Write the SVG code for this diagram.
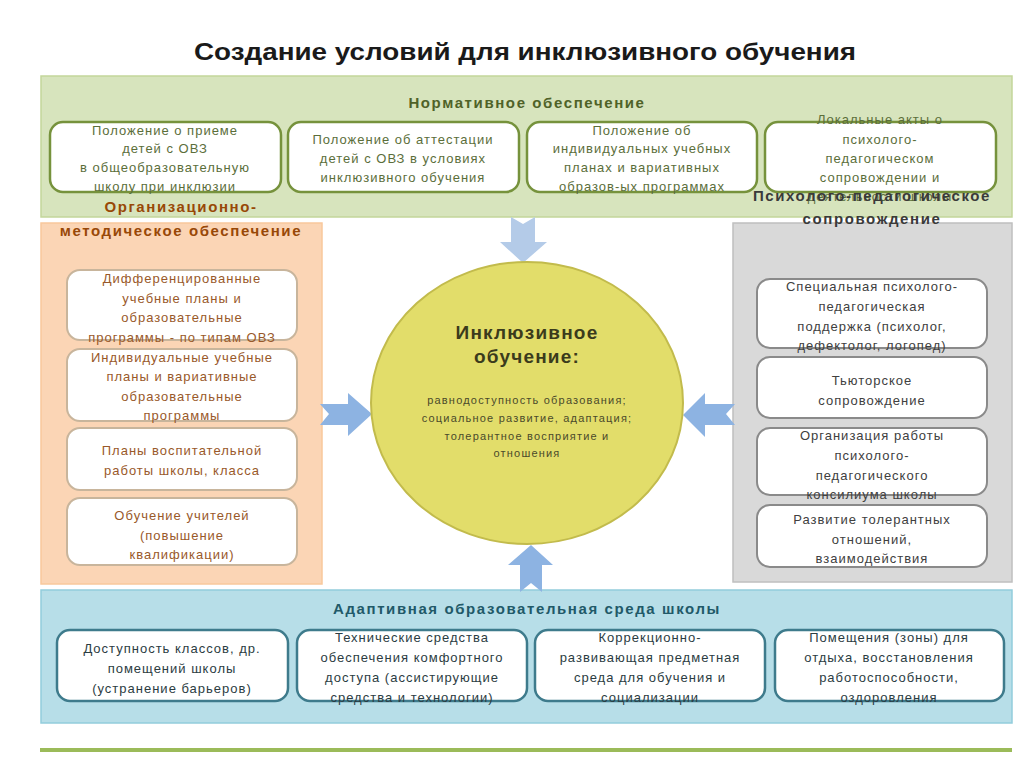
<svg xmlns="http://www.w3.org/2000/svg" width="1024" height="767" viewBox="0 0 1024 767">
<style>
text{font-family:"Liberation Sans",Arial,sans-serif;text-anchor:middle}
.t{font-size:13px;letter-spacing:1px}
.h{font-size:15px;font-weight:bold;letter-spacing:1.6px}
.gb{fill:#fff;stroke:#76923c;stroke-width:2.5}
.gt{fill:#5b6e3a}
.ob{fill:#fff;stroke:#c8b59c;stroke-width:2}
.ot{fill:#99592a}
.sb{fill:#fff;stroke:#8a8a8a;stroke-width:2}
.st{fill:#404040}
.bb{fill:#fff;stroke:#3e7b8c;stroke-width:2.5}
.bt{fill:#2b3c42}
.arr{fill:#8db3e2}
</style>
<rect width="1024" height="767" fill="#fff"/>
<text id="title" x="525" y="60" style="font-size:24px;font-weight:bold;fill:#1a1a1a" textLength="662" lengthAdjust="spacingAndGlyphs">Создание условий для инклюзивного обучения</text>

<g id="panel-norm">
<rect x="41" y="76" width="971" height="141" fill="#d7e4bd" stroke="#c3d69b" stroke-width="1.5"/>
<text class="h" x="527" y="108" style="fill:#4f6228">Нормативное обеспечение</text>
</g>
<g id="panel-org">
<rect x="41" y="223" width="281" height="361" fill="#fbd5b5" stroke="#f9c89c" stroke-width="1.5"/>
</g>
<g id="panel-psy">
<rect x="733" y="223" width="279" height="359" fill="#d9d9d9" stroke="#bfbfbf" stroke-width="1.5"/>
</g>
<g id="panel-env">
<rect x="41" y="590" width="971" height="133" fill="#b7dee8" stroke="#92cddc" stroke-width="1.5"/>
<text class="h" x="527" y="614" style="fill:#215968">Адаптивная образовательная среда школы</text>
</g>

<g id="n1">
<rect class="gb" x="50" y="122" width="231" height="70" rx="13"/>
<text class="t gt" x="165"><tspan x="165" y="135">Положение о приеме</tspan><tspan x="165" y="153">детей с ОВЗ</tspan><tspan x="165" y="172">в общеобразовательную</tspan><tspan x="165" y="191">школу  при инклюзии</tspan></text>
</g>
<g id="n2">
<rect class="gb" x="288" y="122" width="231" height="70" rx="13"/>
<text class="t gt"><tspan x="403" y="144">Положение об аттестации</tspan><tspan x="403" y="163">детей с ОВЗ в условиях</tspan><tspan x="403" y="182">инклюзивного обучения</tspan></text>
</g>
<g id="n3">
<rect class="gb" x="527" y="122" width="230" height="70" rx="13"/>
<text class="t gt"><tspan x="642" y="135">Положение об</tspan><tspan x="642" y="153">индивидуальных учебных</tspan><tspan x="642" y="172">планах и вариативных</tspan><tspan x="642" y="191">образов-ых программах</tspan></text>
</g>
<g id="n4">
<rect class="gb" x="765" y="122" width="231" height="70" rx="13"/>
<text class="t gt"><tspan x="880" y="124">Локальные акты о</tspan><tspan x="880" y="144">психолого-</tspan><tspan x="880" y="163">педагогическом</tspan><tspan x="880" y="182">сопровождении и</tspan><tspan x="880" y="201">деятельности школы</tspan></text>
</g>

<text class="h" x="181" y="212" style="fill:#984807">Организационно-</text>
<text class="h" x="181" y="236" style="fill:#984807">методическое обеспечение</text>
<text class="h" x="872" y="201" style="fill:#3a3a3a">Психолого-педагогическое</text>
<text class="h" x="872" y="224" style="fill:#3a3a3a">сопровождение</text>

<g id="o1">
<rect class="ob" x="67" y="270" width="230" height="70" rx="13"/>
<text class="t ot"><tspan x="182" y="283">Дифференцированные</tspan><tspan x="182" y="303">учебные планы и</tspan><tspan x="182" y="322">образовательные</tspan><tspan x="182" y="342">программы - по типам ОВЗ</tspan></text>
</g>
<g id="o2">
<rect class="ob" x="67" y="349" width="230" height="72" rx="13"/>
<text class="t ot"><tspan x="182" y="362">Индивидуальные учебные</tspan><tspan x="182" y="381">планы и вариативные</tspan><tspan x="182" y="401">образовательные</tspan><tspan x="182" y="420">программы</tspan></text>
</g>
<g id="o3">
<rect class="ob" x="67" y="428" width="230" height="62" rx="13"/>
<text class="t ot"><tspan x="182" y="455">Планы воспитательной</tspan><tspan x="182" y="475">работы школы, класса</tspan></text>
</g>
<g id="o4">
<rect class="ob" x="67" y="498" width="230" height="67" rx="13"/>
<text class="t ot"><tspan x="182" y="520">Обучение учителей</tspan><tspan x="182" y="540">(повышение</tspan><tspan x="182" y="559">квалификации)</tspan></text>
</g>

<g id="s1">
<rect class="sb" x="757" y="279" width="230" height="69" rx="13"/>
<text class="t st"><tspan x="872" y="291">Специальная психолого-</tspan><tspan x="872" y="311">педагогическая</tspan><tspan x="872" y="331">поддержка (психолог,</tspan><tspan x="872" y="350">дефектолог, логопед)</tspan></text>
</g>
<g id="s2">
<rect class="sb" x="757" y="357" width="230" height="61" rx="13"/>
<text class="t st"><tspan x="872" y="385">Тьюторское</tspan><tspan x="872" y="405">сопровождение</tspan></text>
</g>
<g id="s3">
<rect class="sb" x="757" y="428" width="230" height="67" rx="13"/>
<text class="t st"><tspan x="872" y="440">Организация работы</tspan><tspan x="872" y="460">психолого-</tspan><tspan x="872" y="480">педагогического</tspan><tspan x="872" y="499">консилиума школы</tspan></text>
</g>
<g id="s4">
<rect class="sb" x="757" y="505" width="230" height="62" rx="13"/>
<text class="t st"><tspan x="872" y="524">Развитие толерантных</tspan><tspan x="872" y="544">отношений,</tspan><tspan x="872" y="563">взаимодействия</tspan></text>
</g>

<g id="b1">
<rect class="bb" x="57" y="630" width="231" height="71" rx="13"/>
<text class="t bt"><tspan x="172" y="653">Доступность классов, др.</tspan><tspan x="172" y="673">помещений школы</tspan><tspan x="172" y="693">(устранение барьеров)</tspan></text>
</g>
<g id="b2">
<rect class="bb" x="297" y="630" width="230" height="71" rx="13"/>
<text class="t bt"><tspan x="412" y="642">Технические средства</tspan><tspan x="412" y="662">обеспечения комфортного</tspan><tspan x="412" y="682">доступа (ассистирующие</tspan><tspan x="412" y="702">средства и технологии)</tspan></text>
</g>
<g id="b3">
<rect class="bb" x="535" y="630" width="230" height="71" rx="13"/>
<text class="t bt"><tspan x="650" y="642">Коррекционно-</tspan><tspan x="650" y="662">развивающая предметная</tspan><tspan x="650" y="682">среда для обучения и</tspan><tspan x="650" y="702">социализации</tspan></text>
</g>
<g id="b4">
<rect class="bb" x="775" y="630" width="229" height="71" rx="13"/>
<text class="t bt"><tspan x="889" y="642">Помещения (зоны) для</tspan><tspan x="889" y="662">отдыха, восстановления</tspan><tspan x="889" y="682">работоспособности,</tspan><tspan x="889" y="702">оздоровления</tspan></text>
</g>

<g id="connectors">
<path d="M511,217 L523,224 L535,217 L535,242 L547,242 L523,263 L500,242 L511,242 Z" fill="#b4cbe8"/>
<path d="M320,404 L348,404 L348,393 L372,414 L348,436 L348,425 L320,425 L329,414 Z" class="arr"/>
<path d="M735,404 L705,404 L705,393 L683,415 L705,437 L705,425 L735,425 L726,414 Z" class="arr"/>
<path d="M520,592 L531,583 L542,592 L542,565 L553,565 L531,545 L508,565 L520,565 Z" class="arr"/>
</g>

<g id="center">
<ellipse cx="527" cy="403" rx="156" ry="141" fill="#e2dd6a" stroke="#c2bb4c" stroke-width="2"/>
<text x="527" y="339" style="font-size:19px;font-weight:bold;fill:#3b3b1c;letter-spacing:1.2px">Инклюзивное</text>
<text x="527" y="363" style="font-size:19px;font-weight:bold;fill:#3b3b1c;letter-spacing:1.2px">обучение:</text>
<text style="font-size:11px;fill:#4a4a2a;letter-spacing:1.2px"><tspan x="527" y="404">равнодоступность образования;</tspan><tspan x="527" y="422">социальное развитие, адаптация;</tspan><tspan x="527" y="440">толерантное восприятие и</tspan><tspan x="527" y="457">отношения</tspan></text>
</g>

<rect x="40" y="748" width="972" height="4" fill="#9bbb59"/>
</svg>
